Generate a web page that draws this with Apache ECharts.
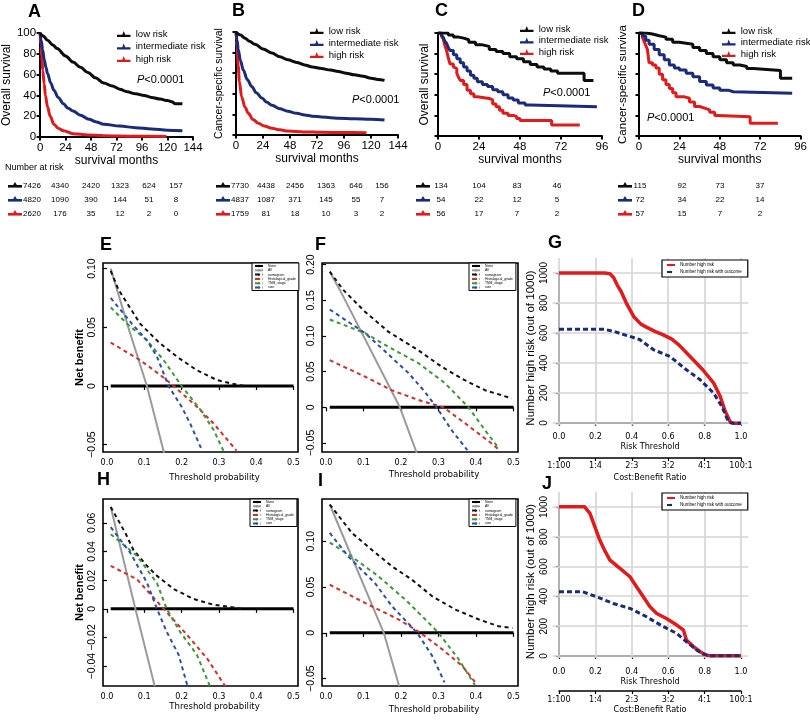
<!DOCTYPE html>
<html><head><meta charset="utf-8">
<script src="https://cdn.jsdelivr.net/npm/echarts@6/dist/echarts.min.js"></script>
<style>html,body{margin:0;padding:0;background:#fff}#c{width:810px;height:720px}</style>
</head><body><div id="c"></div><script>
// ---------------- DATA ----------------
const riskGroups = ['low risk','intermediate risk','high risk'];
// Kaplan-Meier curves [month, survival %]
const kmA_low  = [[0,100],[3,97],[7,93],[12,88.5],[16,85],[24,78],[31,72],[38,67],[45,62],[52,57],[60,52],[68,49],[75,46],[82,43.5],[90,41.5],[98,40],[105,38],[113,36.5],[120,35],[124,34],[127,32],[134,32]];
const kmA_int  = [[0,100],[1,93],[2.4,84],[4,74],[5.5,67],[7,61],[10,52],[13,45],[17,38],[22,32],[26,28],[31,25],[38,21],[46,17],[53,14.5],[60,12.3],[75,10.5],[90,9],[105,7.8],[120,6.5],[134,6]];
const kmA_high = [[0,100],[0.8,88],[1.5,78],[2.5,64],[3.9,51],[5,40],[7,29],[9.5,20],[13,12.3],[17,8.5],[22,6],[31,3.2],[45,2],[60,1.3],[90,0.8],[119,0.6]];
const kmB_low  = [[0,100],[4,97],[8,94],[12,91],[17,88],[24,83.5],[32,79.5],[39,76],[46,73],[54,70.5],[61,68],[68,66],[76,64.5],[84,63],[91,61.7],[98,60],[105,58.5],[113,57],[120,55.2],[126,54],[132,53]];
const kmB_int  = [[0,100],[1,92],[2,83],[4,72],[6.5,63],[10,54],[14,47],[18,41],[23,36],[27,32],[32,29],[39,25.5],[46,23],[54,21],[61,19.5],[68,18.3],[76,17.5],[84,16.8],[91,16.2],[105,15.7],[120,15.3],[132,14.6]];
const kmB_high = [[0,100],[0.5,92],[1,85],[2,67],[3,52],[5,37],[8,27],[11,21],[15,15],[20,11.4],[25,8.8],[32,6.5],[39,5],[46,3.9],[60,3],[76,2.6],[96,2.4],[116,2.3]];
const kmC_low  = [[0,100],[3,100],[6,98],[9,96],[12,95],[15,93.5],[18,91],[22,88.5],[26,87],[30,84],[34,82],[38,80],[42,77],[46,75],[50,72],[54,69.5],[58,67],[62,65],[66,63],[70,61],[85.5,61],[85.5,54],[91,54]];
const kmC_int  = [[0,100],[2,98],[3,96],[4,92],[5,90],[6,86],[7,83],[9,79],[11,75],[13,71],[15,67],[17,63],[19,59],[21,56],[23,52.6],[26,50],[29,48],[32,45],[35,43],[38,40],[41,37],[44,35],[47,32],[51,30],[54,28.4],[93,28.4]];
const kmC_high = [[0,100],[2,97],[3,94.5],[4,88],[5,83],[6,76],[7,70],[9,67],[10,65.5],[11,61],[12,57],[13,54],[15,50],[17,44.5],[19,41],[21,38],[23,36.5],[30,35],[32,31],[34,28.4],[36,25],[38,22],[41,20],[44,19],[46,17],[48,15],[66.5,15],[66.5,10.6],[83,10.6]];
const kmD_low  = [[0,100],[4,99],[8,97.4],[12,96],[16,94],[20,91],[24,90],[28,89],[32,86],[36,83],[40,80],[44,77],[48,74],[52,71],[56,69],[60,67.5],[64,65.5],[68,63.6],[84,63.6],[84,56],[91,56]];
const kmD_int  = [[0,100],[2,97],[4,93],[6,89],[9,84],[12,79],[15,74],[18,69],[21,66],[24,64],[28,61],[32,57.5],[36,53],[40,49.5],[44,46.5],[48,44.5],[53,43],[56,41.5],[91,41.5]];
const kmD_high = [[0,100],[2,96],[3,92],[4,88],[5,84],[6,71],[8,69],[10,66],[12,60],[14,54.5],[16,50],[18,46],[20,42],[22,38],[27,36.7],[30,33],[33,28.6],[36,27],[39,25.3],[42,23],[45,20],[47,18.8],[66,18.8],[66,12.3],[82.5,12.3]];
// Number at risk tables
const riskA = [[7426,4340,2420,1323,624,157],[4820,1090,390,144,51,8],[2620,176,35,12,2,0]];
const riskB = [[7730,4438,2456,1363,646,156],[4837,1087,371,145,55,7],[1759,81,18,10,3,2]];
const riskC = [[134,104,83,46],[54,22,12,5],[56,17,7,2]];
const riskD = [[115,92,73,37],[72,34,22,14],[57,15,7,2]];
// Decision curves [threshold, net benefit]
const dcaNames = ['None','All','nomogram','Histological_grade','TNM_stage','size'];
const dcaE_none = [[0.01,0],[0.5,0]];
const dcaE_all  = [[0.01,0.1],[0.027,0.082],[0.06,0.047],[0.107,0],[0.153,-0.057]];
const dcaE_nom  = [[0.01,0.098],[0.031,0.082],[0.089,0.053],[0.14,0.037],[0.1875,0.025],[0.24,0.0136],[0.295,0.005],[0.35,0.001],[0.37,0]];
const dcaE_hist = [[0.01,0.037],[0.089,0.022],[0.143,0.0094],[0.179,0],[0.241,-0.0176],[0.286,-0.032],[0.347,-0.055]];
const dcaE_tnm  = [[0.01,0.067],[0.054,0.053],[0.107,0.039],[0.152,0.022],[0.2,0],[0.25,-0.02],[0.286,-0.0375],[0.312,-0.055]];
const dcaE_size = [[0.01,0.075],[0.067,0.053],[0.107,0.039],[0.134,0.025],[0.165,0],[0.2,-0.0176],[0.223,-0.032],[0.255,-0.055]];
const dcaF_none = [[0.01,0],[0.5,0]];
const dcaF_all  = [[0.01,0.19],[0.037,0.1645],[0.197,0],[0.242,-0.064]];
const dcaF_nom  = [[0.01,0.19],[0.046,0.1645],[0.104,0.134],[0.166,0.106],[0.246,0.08],[0.308,0.057],[0.37,0.038],[0.424,0.024],[0.495,0.0126]];
const dcaF_hist = [[0.01,0.066],[0.104,0.043],[0.175,0.024],[0.246,0.0103],[0.313,0],[0.37,-0.022],[0.44,-0.05],[0.458,-0.058]];
const dcaF_tnm  = [[0.01,0.123],[0.104,0.104],[0.166,0.085],[0.246,0.062],[0.317,0.034],[0.38,0],[0.424,-0.032],[0.46,-0.057]];
const dcaF_size = [[0.01,0.137],[0.104,0.104],[0.148,0.083],[0.22,0.048],[0.26,0.024],[0.295,0],[0.335,-0.032],[0.377,-0.06]];
const dcaH_none = [[0.01,0],[0.5,0]];
const dcaH_all  = [[0.01,0.071],[0.076,0],[0.128,-0.054]];
const dcaH_nom  = [[0.01,0.071],[0.049,0.053],[0.071,0.041],[0.107,0.03],[0.134,0.023],[0.179,0.0138],[0.232,0.0069],[0.286,0.0028],[0.34,0.001],[0.36,0]];
const dcaH_hist = [[0.01,0.03],[0.08,0.0207],[0.12,0.0092],[0.152,0],[0.214,-0.018],[0.268,-0.0345],[0.317,-0.054]];
const dcaH_tnm  = [[0.01,0.052],[0.08,0.037],[0.134,0.018],[0.16,0],[0.196,-0.016],[0.241,-0.032],[0.276,-0.054]];
const dcaH_size = [[0.01,0.057],[0.0625,0.039],[0.107,0.0184],[0.134,0],[0.16,-0.016],[0.192,-0.032],[0.216,-0.054]];
const dcaI_none = [[0.01,0],[0.5,0]];
const dcaI_all  = [[0.01,0.14],[0.154,0],[0.195,-0.058]];
const dcaI_nom  = [[0.01,0.14],[0.069,0.109],[0.122,0.0906],[0.176,0.0725],[0.229,0.058],[0.283,0.04],[0.345,0.0254],[0.408,0.0145],[0.46,0.0072],[0.497,0.0054]];
const dcaI_hist = [[0.01,0.0525],[0.104,0.0326],[0.194,0.0145],[0.252,0],[0.31,-0.018],[0.363,-0.036],[0.402,-0.056]];
const dcaI_tnm  = [[0.01,0.0985],[0.069,0.083],[0.14,0.0616],[0.212,0.036],[0.265,0.0145],[0.3,0],[0.354,-0.029],[0.397,-0.057]];
const dcaI_size = [[0.01,0.109],[0.06,0.083],[0.131,0.054],[0.176,0.029],[0.243,0],[0.283,-0.025],[0.316,-0.054]];
// Clinical impact curves [risk threshold, number high risk]
const cicNames = ['Number high risk','Number high risk with outcome'];
const cicG_high = [[0,1000],[0.25,1000],[0.28,995],[0.3,970],[0.32,920],[0.34,880],[0.37,800],[0.41,711],[0.45,660],[0.48,640],[0.53,610],[0.57,590],[0.62,560],[0.66,520],[0.72,444],[0.79,356],[0.85,267],[0.886,178],[0.91,89],[0.94,10],[0.96,0],[1.0,0]];
const cicG_out  = [[0,625],[0.25,625],[0.3,612],[0.35,592],[0.39,578],[0.445,556],[0.52,489],[0.61,444],[0.7,356],[0.776,289],[0.85,200],[0.895,111],[0.93,11],[0.95,0],[1.0,0]];
const cicJ_high = [[0,1000],[0.14,1000],[0.17,955],[0.197,866],[0.224,776],[0.25,709],[0.28,642],[0.335,586],[0.39,530],[0.426,463],[0.463,396],[0.5,329],[0.537,284],[0.59,250],[0.647,206],[0.684,172],[0.7,105],[0.74,60],[0.776,27],[0.81,4],[0.83,0],[1.0,0]];
const cicJ_out  = [[0,430],[0.13,430],[0.206,396],[0.298,351],[0.39,318],[0.48,262],[0.574,195],[0.647,150],[0.7,94],[0.757,38],[0.794,11],[0.83,0],[1.0,0]];
const costLabels = ['1:100','1:4','2:3','3:2','4:1','100:1'];
const cicXGrid = [0,0.2,0.4,0.6,0.8,1.0];
const cicYGrid = [0,200,400,600,800,1000];

// ---------------- STYLE ----------------
const FONT = '"Liberation Sans", Arial, sans-serif';
const NARROW = '"Liberation Sans Narrow", "DejaVu Sans Condensed", "Liberation Sans", Arial, sans-serif';
const KMC = ['#0d0d0d','#1b2a7b','#e31a1c'];
const DCAC = {None:'#000', All:'#9a9a9a', nomogram:'#111', Histological_grade:'#e0282a', TNM_stage:'#3a9a36', size:'#2b4fae'};
const CICC = ['#e31a1c','#1b2a7b'];

const grids=[], xAxes=[], yAxes=[], series=[], legends=[], graphics=[];

// ---------------- KM PANELS ----------------
const KM = [
 {grid:{left:32,top:33,width:161,height:104}, xmax:144, yLabels:true, yName:'Overall survival', yNameSize:12, yNameGap:20, curves:[kmA_low,kmA_int,kmA_high], step:false, leg:{left:117,top:29,gap:2.5}, p:{x:137,y:80}},
 {grid:{left:236,top:32,width:162,height:103}, xmax:144, yLabels:false, yName:'Cancer-specific survival', yNameSize:10.5, yNameGap:11, curves:[kmB_low,kmB_int,kmB_high], step:false, leg:{left:310,top:26,gap:2}, p:{x:352,y:100}},
 {grid:{left:438,top:33,width:164,height:103}, xmax:96, yLabels:false, yName:'Overall survival', yNameSize:12, yNameGap:7, curves:[kmC_low,kmC_int,kmC_high], step:true, leg:{left:520,top:24,gap:1.5}, p:{x:543,y:93}},
 {grid:{left:639,top:33,width:166,height:103}, xmax:96, yLabels:false, yName:'Cancer-specific surviva', yNameSize:11.5, yNameGap:10, curves:[kmD_low,kmD_int,kmD_high], step:true, leg:{left:722,top:26,gap:1.5}, p:{x:647,y:118}}
];
KM.forEach(k=>{
  const gi = grids.length, xi = xAxes.length, yi = yAxes.length;
  grids.push(Object.assign({containLabel:false}, k.grid));
  xAxes.push({type:'value', gridIndex:gi, min:0, max:k.xmax, interval:24,
    axisLine:{show:true, lineStyle:{color:'#000', width:2}},
    axisTick:{show:true, length:3.5, lineStyle:{color:'#000', width:2}},
    axisLabel:{fontSize:11.5, color:'#000', margin:5, fontFamily:FONT},
    splitLine:{show:false},
    name:'survival months', nameLocation:'middle', nameGap:17,
    nameTextStyle:{fontSize:12, color:'#000', fontFamily:FONT}});
  yAxes.push({type:'value', gridIndex:gi, min:0, max:100, interval:20,
    axisLine:{show:true, lineStyle:{color:'#000', width:2}},
    axisTick:{show:true, length:3.5, lineStyle:{color:'#000', width:2}},
    axisLabel:{show:k.yLabels, fontSize:11.5, color:'#000', margin:4, fontFamily:FONT},
    splitLine:{show:false},
    name:k.yName, nameLocation:'middle', nameGap:k.yNameGap,
    nameTextStyle:{fontSize:k.yNameSize, color:'#000', fontFamily:FONT}});
  k.curves.forEach((d,i)=>{
    series.push({type:'line', name:riskGroups[i], xAxisIndex:xi, yAxisIndex:yi, data:d,
      step:k.step?'end':false, smooth:k.step?false:0.35, smoothMonotone:'x',
      symbol:'none', lineStyle:{color:KMC[i], width:3}, itemStyle:{color:KMC[i]}, z:5-i, silent:true});
  });
  legends.push({orient:'vertical', left:k.leg.left, top:k.leg.top, itemGap:k.leg.gap, itemWidth:14, itemHeight:6,
    icon:'path://M0,6L7,6L9,1L11,6L18,6L18,9L0,9Z', selectedMode:false, padding:0,
    data:riskGroups, textStyle:{fontSize:9.5, color:'#000', fontFamily:FONT}});
  graphics.push({type:'text', x:k.p.x, y:k.p.y, style:{text:'{i|P}<0.0001', fill:'#000', font:'11px '+FONT, verticalAlign:'middle',
    rich:{i:{fontStyle:'italic', fontSize:11, fontFamily:FONT}}}});
});

// ---------------- NUMBER AT RISK ----------------
graphics.push({type:'text', x:5, y:168, style:{text:'Number at risk', fill:'#000', font:'9px '+FONT, verticalAlign:'middle'}});
const riskRowsY = [186,200,214];
const riskTables = [
  {sym:8, cols:[32,60,91,120,149,176], rows:riskA},
  {sym:216, cols:[240,266,295,326,356,382], rows:riskB},
  {sym:416, cols:[441,479,517,557], rows:riskC},
  {sym:618, cols:[640,682,720,760], rows:riskD}
];
riskTables.forEach(t=>{
  t.rows.forEach((r,i)=>{
    const y = riskRowsY[i];
    graphics.push({type:'rect', shape:{x:t.sym, y:y-1, width:14, height:2.6}, style:{fill:KMC[i]}});
    graphics.push({type:'polygon', shape:{points:[[t.sym+4.5,y],[t.sym+7,y-4],[t.sym+9.5,y]]}, style:{fill:KMC[i]}});
    r.forEach((v,j)=>{
      graphics.push({type:'text', x:t.cols[j], y:y, style:{text:String(v), fill:'#000', font:'8px '+FONT, align:'center', verticalAlign:'middle'}});
    });
  });
});

// ---------------- DECISION CURVES ----------------
const fmtNB = v => v===0 ? '0' : (v<0?'\u2212':'') + Math.abs(v).toFixed(2);
const DCA = [
 {grid:{left:103,top:263,width:195,height:189}, ymin:-0.0562, ymax:0.1048, yt:[-0.05,0,0.05,0.10], yName:true, xNameGap:21,
  d:[dcaE_none,dcaE_all,dcaE_nom,dcaE_hist,dcaE_tnm,dcaE_size], leg:{left:252,top:263}},
 {grid:{left:322,top:263,width:196,height:189}, ymin:-0.0626, ymax:0.2022, yt:[-0.05,0,0.05,0.10,0.15,0.20], yName:false, xNameGap:18,
  d:[dcaF_none,dcaF_all,dcaF_nom,dcaF_hist,dcaF_tnm,dcaF_size], leg:{left:469,top:263}},
 {grid:{left:103,top:499,width:195,height:187}, ymin:-0.0538, ymax:0.0766, yt:[-0.04,-0.02,0,0.02,0.04,0.06], yName:true, xNameGap:16,
  d:[dcaH_none,dcaH_all,dcaH_nom,dcaH_hist,dcaH_tnm,dcaH_size], leg:{left:250,top:499}},
 {grid:{left:322,top:499,width:196,height:187}, ymin:-0.058, ymax:0.146, yt:[-0.05,0,0.05,0.10], yName:false, xNameGap:19,
  d:[dcaI_none,dcaI_all,dcaI_nom,dcaI_hist,dcaI_tnm,dcaI_size], leg:{left:469,top:499}}
];
const dcaX = [0,0.1,0.2,0.3,0.4,0.5];
DCA.forEach(p=>{
  const gi = grids.length, xi = xAxes.length, yi = yAxes.length;
  grids.push(Object.assign({show:true, borderColor:'#000', borderWidth:1.6, backgroundColor:'transparent'}, p.grid));
  xAxes.push({type:'value', gridIndex:gi, min:-0.0107, max:0.512,
    axisLine:{show:false}, splitLine:{show:false},
    axisTick:{show:true, length:4, customValues:dcaX, lineStyle:{color:'#000', width:1.2}},
    axisLabel:{customValues:dcaX, formatter:v=>v.toFixed(1), fontSize:9, color:'#000', margin:6, fontFamily:NARROW},
    name:'Threshold probability', nameLocation:'middle', nameGap:p.xNameGap,
    nameTextStyle:{fontSize:9.5, color:'#000', fontFamily:NARROW, padding:[0,0,0,28]}});
  yAxes.push({type:'value', gridIndex:gi, min:p.ymin, max:p.ymax,
    axisLine:{show:false}, splitLine:{show:false},
    axisTick:{show:true, length:4, customValues:p.yt, lineStyle:{color:'#000', width:1.2}},
    axisLabel:{customValues:p.yt, formatter:fmtNB, rotate:90, fontSize:10.5, color:'#000', margin:5.5, fontFamily:FONT},
    name:p.yName?'Net benefit':'', nameLocation:'middle', nameGap:16,
    nameTextStyle:{fontSize:11, fontWeight:'bold', color:'#000', fontFamily:FONT}});
  p.d.forEach((d,i)=>{
    const nm = dcaNames[i];
    const solid = i<2;
    series.push({type:'line', name:nm, xAxisIndex:xi, yAxisIndex:yi, data:d, symbol:'none', silent:true,
      lineStyle:{color:DCAC[nm], width: i===0?3:2, type: solid?'solid':[4,3.5]},
      itemStyle:{color:DCAC[nm]}, z: i===0?3:4});
  });
  legends.push({orient:'vertical', left:p.leg.left, top:p.leg.top, itemGap:1.3, itemWidth:8, itemHeight:3,
    selectedMode:false, padding:[1.5,3,1.5,2], borderColor:'#000', borderWidth:1, backgroundColor:'#fff', z:10,
    data:dcaNames, textStyle:{fontSize:3.4, color:'#000', fontFamily:FONT}});
});

// ---------------- CLINICAL IMPACT CURVES ----------------
const CIC = [
 {data:{left:552.6, top:258, width:195.7, height:167.5}, axis:{left:559, top:273, width:182, height:150},
  d:[cicG_high,cicG_out], leg:{left:662, top:260}, riskM:3, riskGap:13, costM:3.5, costGap:15},
 {data:{left:552.6, top:491.8, width:195.7, height:166.2}, axis:{left:559, top:507, width:182, height:149},
  d:[cicJ_high,cicJ_out], leg:{left:662, top:493}, riskM:5, riskGap:14, costM:4.5, costGap:13}
];
CIC.forEach(c=>{
  const gi = grids.length, xi = xAxes.length, yi = yAxes.length;
  grids.push(Object.assign({}, c.data));
  xAxes.push({type:'value', gridIndex:gi, min:-0.035, max:1.04,
    axisLine:{show:false}, axisLabel:{show:false}, axisTick:{show:false}, splitLine:{show:false}});
  yAxes.push({type:'value', gridIndex:gi, min:-15, max:1100,
    axisLine:{show:false}, axisLabel:{show:false}, axisTick:{show:false}, splitLine:{show:false}});
  // light reference grid lines drawn through the axes as mark lines (behind the curves)
  series.push({type:'line', name:'grid', xAxisIndex:xi, yAxisIndex:yi, data:[], symbol:'none', silent:true, z:2,
    markLine:{silent:true, z:2, symbol:['none','none'], label:{show:false}, animation:false,
      lineStyle:{color:'#d4d4d4', width:1.6, type:'solid'},
      data: cicXGrid.map(v=>({xAxis:v})).concat(cicYGrid.map(v=>({yAxis:v})))}});
  series.push({type:'line', name:cicNames[0], xAxisIndex:xi, yAxisIndex:yi, data:c.d[0], symbol:'none', silent:true,
    lineStyle:{color:CICC[0], width:3.5}, itemStyle:{color:CICC[0]}, z:4});
  series.push({type:'line', name:cicNames[1], xAxisIndex:xi, yAxisIndex:yi, data:c.d[1], symbol:'none', silent:true,
    lineStyle:{color:CICC[1], width:3, type:[5,3]}, itemStyle:{color:CICC[1]}, z:5});
  // axis grid
  const ai = grids.length;
  grids.push(Object.assign({}, c.axis));
  xAxes.push({type:'value', gridIndex:ai, min:0, max:1, interval:0.2, offset:6, position:'bottom',
    axisLine:{show:true, lineStyle:{color:'#000', width:1.6}},
    axisTick:{show:true, length:3, lineStyle:{color:'#000', width:1.2}},
    axisLabel:{formatter:v=>v.toFixed(1), fontSize:9, color:'#000', margin:c.riskM, fontFamily:NARROW},
    splitLine:{show:false},
    name:'Risk Threshold', nameLocation:'middle', nameGap:c.riskGap,
    nameTextStyle:{fontSize:9, color:'#000', fontFamily:NARROW}});
  xAxes.push({type:'value', gridIndex:ai, min:0, max:1, interval:0.2, offset:35, position:'bottom',
    axisLine:{show:true, lineStyle:{color:'#000', width:1.6}},
    axisTick:{show:true, length:3, lineStyle:{color:'#000', width:1.2}},
    axisLabel:{formatter:v=>costLabels[Math.round(v/0.2)], fontSize:9, color:'#000', margin:c.costM, fontFamily:NARROW},
    splitLine:{show:false},
    name:'Cost:Benefit Ratio', nameLocation:'middle', nameGap:c.costGap,
    nameTextStyle:{fontSize:9, color:'#000', fontFamily:NARROW}});
  yAxes.push({type:'value', gridIndex:ai, min:0, max:1000, interval:200, offset:7,
    axisLine:{show:true, lineStyle:{color:'#000', width:1.6}},
    axisTick:{show:true, length:3, lineStyle:{color:'#000', width:1.2}},
    axisLabel:{rotate:90, formatter:v=>String(v), fontSize:10, color:'#000', margin:3, fontFamily:FONT},
    splitLine:{show:false},
    name:'Number high risk (out of 1000)', nameLocation:'middle', nameGap:15,
    nameTextStyle:{fontSize:11.5, color:'#000', fontFamily:FONT}});
  legends.push({orient:'vertical', left:c.leg.left, top:c.leg.top, itemGap:2, itemWidth:8, itemHeight:3,
    selectedMode:false, padding:[2.5,6,2.5,4], borderColor:'#000', borderWidth:1.2, backgroundColor:'#fff', z:10,
    data:cicNames, textStyle:{fontSize:4.5, color:'#000', fontFamily:FONT}});
});

// ---------------- PANEL LETTERS ----------------
const letters = [['A',28,12.5],['B',232,11.5],['C',435,11.5],['D',632,11.5],['E',100,245],['F',315,245],['G',548,243.5],['H',97,480.5],['I',318,481],['J',542,484]];
letters.forEach(l=>graphics.push({type:'text', x:l[1], y:l[2], style:{text:l[0], fill:'#000', font:'bold 18px '+FONT, verticalAlign:'middle'}}));

const chart = echarts.init(document.getElementById('c'), null, {renderer:'canvas'});
chart.setOption({
  animation:false, backgroundColor:'#fff',
  grid:grids, xAxis:xAxes, yAxis:yAxes, series:series, legend:legends, graphic:graphics
});
</script></body></html>
